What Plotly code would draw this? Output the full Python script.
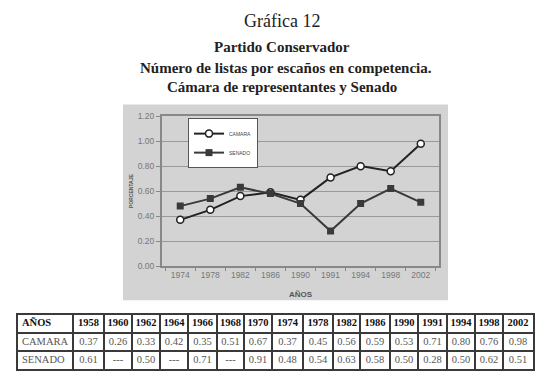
import plotly.graph_objects as go

# ---- data ----
table_years = ['1958', '1960', '1962', '1964', '1966', '1968', '1970', '1974', '1978',
               '1982', '1986', '1990', '1991', '1994', '1998', '2002']
camara = [0.37, 0.26, 0.33, 0.42, 0.35, 0.51, 0.67, 0.37, 0.45, 0.56, 0.59, 0.53, 0.71, 0.80, 0.76, 0.98]
senado = [0.61, None, 0.50, None, 0.71, None, 0.91, 0.48, 0.54, 0.63, 0.58, 0.50, 0.28, 0.50, 0.62, 0.51]
row_labels = ['AÑOS', 'CAMARA', 'SENADO']

chart_years = ['1974', '1978', '1982', '1986', '1990', '1991', '1994', '1998', '2002']
start = table_years.index(chart_years[0])
camara_chart = camara[start:]
senado_chart = senado[start:]

# page has an 8px body margin: figure sized to fit the window exactly
OFF = 8
W, H = 549 - 2 * OFF, 391 - 2 * OFF
def px(x): return (x - OFF) / W
def py(y): return 1 - (y - OFF) / H

fig = go.Figure()

fig.add_trace(go.Scatter(
    x=chart_years, y=camara_chart, name='CAMARA', mode='lines+markers',
    line=dict(color='#222222', width=2),
    marker=dict(symbol='circle', size=7, color='white', line=dict(color='#222222', width=1.5)),
    hoverinfo='x+y',
))
fig.add_trace(go.Scatter(
    x=chart_years, y=senado_chart, name='SENADO', mode='lines+markers',
    line=dict(color='#3a3a3a', width=2),
    marker=dict(symbol='square', size=7, color='#3a3a3a'),
    hoverinfo='x+y',
))

# ---- table, drawn on its own pair of axes ----
def fmt(v):
    return '---' if v is None else f'{v:.2f}'

col_widths = [55, 31, 28, 28, 28, 29, 27, 28, 31, 30, 27, 30, 28, 29, 28, 28, 30]
bounds = [0]
for w in col_widths:
    bounds.append(bounds[-1] + w)
centers = [(bounds[i] + bounds[i + 1]) / 2 for i in range(len(col_widths))]
text_x = [bounds[0] + 4] + centers[1:]
text_pos = ['middle right'] + ['middle center'] * len(table_years)

rows = [
    (['<b>' + row_labels[0] + '</b>'] + ['<b>' + y + '</b>' for y in table_years], 10.5, '#111111'),
    ([row_labels[1]] + [fmt(v) for v in camara], 10.5, '#555555'),
    ([row_labels[2]] + [fmt(v) for v in senado], 10.5, '#555555'),
]
for i, (texts, size, color) in enumerate(rows):
    fig.add_trace(go.Scatter(
        x=text_x, y=[i + 0.5] * len(texts), text=texts, mode='text',
        textposition=text_pos, textfont=dict(family='Liberation Serif', size=size, color=color),
        xaxis='x2', yaxis='y2', showlegend=False, hoverinfo='skip',
    ))

fig.update_layout(
    width=W, height=H,
    margin=dict(l=0, r=0, t=0, b=0),
    paper_bgcolor='white', plot_bgcolor='white',
    showlegend=True,
    legend=dict(x=px(188), y=py(116), xanchor='left', yanchor='top',
                bgcolor='white', bordercolor='#555555', borderwidth=1,
                font=dict(family='Arial', size=5, color='#444444'),
                tracegroupgap=0, itemwidth=30),
    xaxis=dict(domain=[px(162), px(439)], type='category',
               showgrid=False, showline=True, linecolor='#888888', linewidth=2, mirror=True,
               ticks='outside', tickson='boundaries', ticklen=3, tickcolor='#888888',
               tickfont=dict(family='Arial', size=8.5, color='#777777'),
               title=dict(text='<b>AÑOS</b>', font=dict(family='Arial', size=8, color='#555555'), standoff=12)),
    yaxis=dict(domain=[py(268), py(114)], range=[0, 1.2], dtick=0.2, tickformat='.2f',
               showgrid=True, gridcolor='#999999', gridwidth=1,
               showline=True, linecolor='#888888', linewidth=2, mirror=True,
               ticks='outside', ticklen=4, tickcolor='#888888',
               tickfont=dict(family='Arial', size=8.5, color='#777777'),
               title=dict(text='<b>PORCENTAJE</b>', font=dict(family='Arial', size=5, color='#555555'), standoff=4)),
    xaxis2=dict(domain=[px(18), px(533)], range=[bounds[0], bounds[-1]], anchor='y2',
                tickvals=bounds, showticklabels=False, ticks='',
                showgrid=True, gridcolor='#3a3a3a', gridwidth=2, zeroline=False,
                showline=True, linecolor='#3a3a3a', linewidth=2, mirror=True, fixedrange=True),
    yaxis2=dict(domain=[py(374), py(318)], range=[3, 0], anchor='x2',
                tickvals=[0, 1, 2, 3], showticklabels=False, ticks='',
                showgrid=True, gridcolor='#3a3a3a', gridwidth=2, zeroline=False,
                showline=True, linecolor='#3a3a3a', linewidth=2, mirror=True, fixedrange=True),
    shapes=[dict(type='rect', xref='paper', yref='paper', layer='below',
                 x0=px(123), x1=px(448), y0=py(303), y1=py(102),
                 fillcolor='#d3d3d3', line=dict(width=0))],
    annotations=[
        dict(text='Gráfica 12', x=px(282), y=py(16), xref='paper', yref='paper', showarrow=False,
             xanchor='center', yanchor='middle',
             font=dict(family='Liberation Serif', size=18, color='#222222')),
        dict(text='<b>Partido Conservador</b>', x=px(282), y=py(43), xref='paper', yref='paper', showarrow=False,
             xanchor='center', yanchor='middle',
             font=dict(family='Liberation Serif', size=15, color='#222222')),
        dict(text='<b>Número de listas por escaños en competencia.</b>', x=px(286), y=py(64), xref='paper',
             yref='paper', showarrow=False, xanchor='center', yanchor='middle',
             font=dict(family='Liberation Serif', size=15, color='#222222')),
        dict(text='<b>Cámara de representantes y Senado</b>', x=px(282), y=py(84), xref='paper', yref='paper',
             showarrow=False, xanchor='center', yanchor='middle',
             font=dict(family='Liberation Serif', size=15, color='#222222')),
    ],
)

fig.write_html('out.html')
